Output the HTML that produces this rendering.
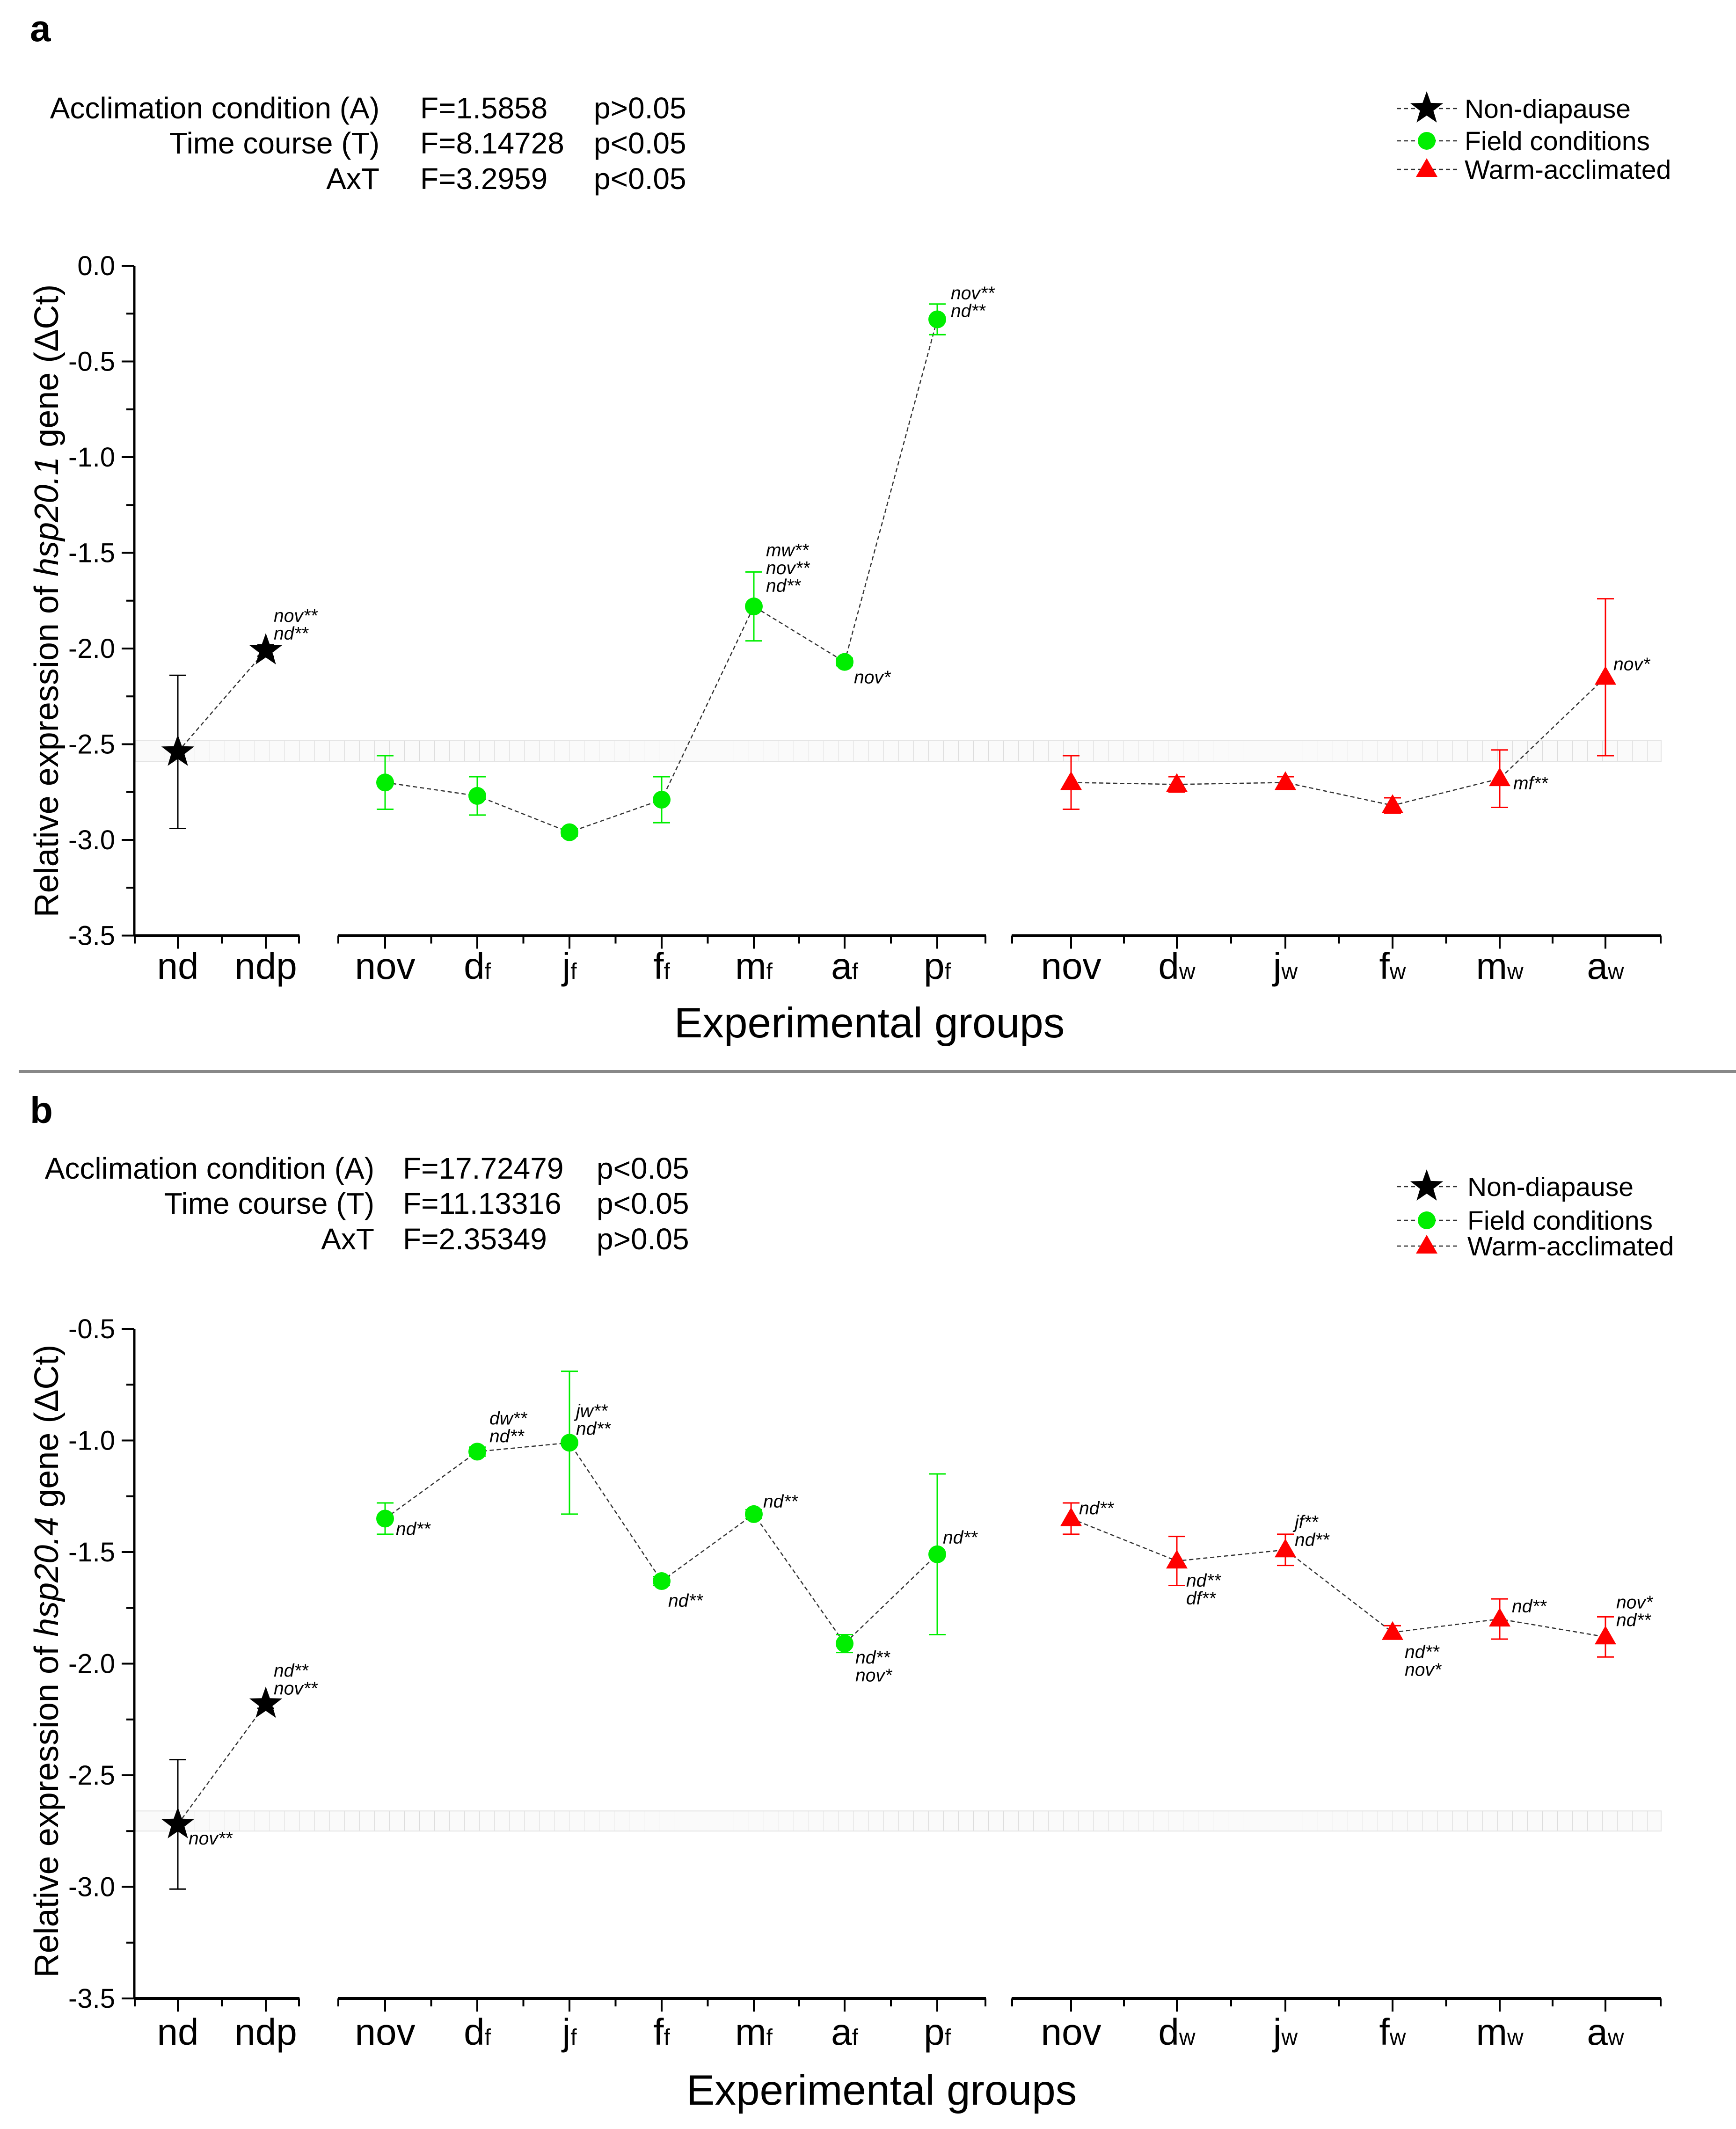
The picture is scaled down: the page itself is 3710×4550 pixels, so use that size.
<!DOCTYPE html>
<html><head><meta charset="utf-8">
<style>
html,body{margin:0;padding:0;background:#fff;}
svg{display:block;font-family:"Liberation Sans",Arial,sans-serif;}
</style></head>
<body>
<svg id="fig" width="3710" height="4550" viewBox="0 0 3710 4550" xmlns="http://www.w3.org/2000/svg">
<defs>
<pattern id="hatch" width="32" height="40" patternUnits="userSpaceOnUse">
<rect width="32" height="40" fill="#fafafa"/>
<line x1="0" y1="0" x2="0" y2="40" stroke="#dcdcdc" stroke-width="2"/>
</pattern>
</defs>
<text x="64" y="88" font-size="80" font-weight="bold">a</text>
<text x="64" y="2400" font-size="80" font-weight="bold">b</text>
<line x1="40" y1="2290" x2="3710" y2="2290" stroke="#888" stroke-width="6"/>
<g id="pa"></g>
<g id="pb"></g>
</svg>
<script>
// ---- categories
const catMain = ["nd","ndp","nov","d","j","f","m","a","p","nov","d","j","f","m","a"];
const catSub  = ["","","","f","f","f","f","f","f","","w","w","w","w","w"];
const catGroup = ["n","n","f","f","f","f","f","f","f","w","w","w","w","w","w"];
// ---- panel a values
const aVals = [-2.54,-2.01,-2.70,-2.77,-2.96,-2.79,-1.78,-2.07,-0.28,-2.70,-2.71,-2.70,-2.82,-2.68,-2.15];
const aErr  = [0.40,0.03,0.14,0.10,0.02,0.12,0.18,0.02,0.08,0.14,0.04,0.03,0.04,0.15,0.41];
const aBand = [-2.48,-2.59];
const aTicks = [0.0,-0.5,-1.0,-1.5,-2.0,-2.5,-3.0,-3.5];
// ---- panel b values
const bVals = [-2.72,-2.18,-1.35,-1.05,-1.01,-1.63,-1.33,-1.91,-1.51,-1.35,-1.54,-1.49,-1.86,-1.80,-1.88];
const bErr  = [0.29,0.02,0.07,0.02,0.32,0.02,0.02,0.04,0.36,0.07,0.11,0.07,0.03,0.09,0.09];
const bBand = [-2.66,-2.75];
const bTicks = [-0.5,-1.0,-1.5,-2.0,-2.5,-3.0,-3.5];
// ---- annotations: [index, text lines]
const aAnn = [[1,["nov**","nd**"]],[6,["mw**","nov**","nd**"]],[7,["nov*"]],[8,["nov**","nd**"]],[13,["mf**"]],[14,["nov*"]]];
const aAnnOff = [[17,-61],[26,-107],[20,46],[29,-43],[29,23],[17,-15]];
const bAnn = [[0,["nov**"]],[1,["nd**","nov**"]],[2,["nd**"]],[3,["dw**","nd**"]],[4,["jw**","nd**"]],[5,["nd**"]],[6,["nd**"]],[7,["nd**","nov*"]],[8,["nd**"]],[9,["nd**"]],[10,["nd**","df**"]],[11,["jf**","nd**"]],[12,["nd**","nov*"]],[13,["nd**"]],[14,["nov*","nd**"]]];
const bAnnOff = [[23,43],[17,-58],[23,35],[26,-58],[14,-55],[14,55],[20,-14],[23,43],[12,-23],[17,-9],[20,55],[20,-46],[26,55],[26,-14],[23,-61]];

const NS="http://www.w3.org/2000/svg";
const xPos=[380,568,823,1020,1217,1414,1611,1805,2003,2289,2515,2747,2976,3205,3431];
const segs=[[287,640],[722,2107],[2162,3550]];
const colors={n:"#000",f:"#00ee00",w:"#ff0000"};
function mk(parent,tag,attrs){const e=document.createElementNS(NS,tag);for(const k in attrs)e.setAttribute(k,attrs[k]);parent.appendChild(e);return e;}

function panel(g,P){
  const y=v=>P.y0+(P.top-v)*P.ppu;
  const yBot=y(P.ticks[P.ticks.length-1]);
  const band=mk(g,"rect",{x:289,y:y(P.band[0]),width:3261,height:y(P.band[1])-y(P.band[0]),fill:"url(#hatch)",stroke:"#e4e4e4","stroke-width":2});
  
  
  const ya=mk(g,"line",{x1:287,y1:P.y0,x2:287,y2:yBot,stroke:"#000","stroke-width":5});
  
  
  for(let v=P.top;v>=P.ticks[P.ticks.length-1]-1e-6;v-=0.25){
    const major=Math.abs(v*2-Math.round(v*2))<1e-6;
    mk(g,"line",{x1:major?260:270,y1:y(v),x2:287,y2:y(v),stroke:"#000","stroke-width":4});
  }
  P.ticks.forEach(t=>{
    const tl=mk(g,"text",{x:246,y:y(t)+20,"font-size":58,"text-anchor":"end"});
    tl.textContent=t.toFixed(1);
    
    
  });
  segs.forEach(s=>{
    const xa=mk(g,"line",{x1:s[0],y1:yBot,x2:s[1],y2:yBot,stroke:"#000","stroke-width":6});
    
    
    mk(g,"line",{x1:s[0]+1,y1:yBot,x2:s[0]+1,y2:yBot+17,stroke:"#000","stroke-width":4});
    mk(g,"line",{x1:s[1]-1,y1:yBot,x2:s[1]-1,y2:yBot+17,stroke:"#000","stroke-width":4});
  });
  xPos.forEach((x,i)=>{
    mk(g,"line",{x1:x,y1:yBot,x2:x,y2:yBot+28,stroke:"#000","stroke-width":4});
    if(i<xPos.length-1&&catGroup[i]===catGroup[i+1]){const m=(x+xPos[i+1])/2;mk(g,"line",{x1:m,y1:yBot,x2:m,y2:yBot+17,stroke:"#000","stroke-width":4});}
    const t=mk(g,"text",{x:x,y:P.lblY,"font-size":80,"text-anchor":"middle"});
    t.textContent=catMain[i];
    if(catSub[i]){const s=document.createElementNS(NS,"tspan");s.setAttribute("font-size","48");s.textContent=catSub[i];t.appendChild(s);}
    
    
  });
  const xt=mk(g,"text",{x:P.xtX,y:P.xtY,"font-size":91,"text-anchor":"middle"});
  xt.textContent="Experimental groups";
  
  
  const yt=mk(g,"text",{x:0,y:0,"font-size":72,"text-anchor":"middle",transform:`translate(124,${P.ytY}) rotate(-90)`});
  yt.innerHTML=`Relative expression of <tspan font-style="italic">${P.gene}</tspan> gene (ΔCt)`;
  
  
  ["n","f","w"].forEach(gr=>{
    const pts=[];P.vals.forEach((v,i)=>{if(catGroup[i]===gr)pts.push(xPos[i]+","+y(v));});
    const pl=mk(g,"polyline",{points:pts.join(" "),fill:"none",stroke:"#333","stroke-width":2.5,"stroke-dasharray":"9,6"});
    
    
  });
  P.vals.forEach((v,i)=>{
    const c=colors[catGroup[i]],x=xPos[i],e=P.err[i];
    const eb=mk(g,"path",{d:`M${x},${y(v+e)}V${y(v-e)}M${x-18},${y(v+e)}H${x+18}M${x-18},${y(v-e)}H${x+18}`,stroke:c,"stroke-width":3,fill:"none"});
    
    
    drawMarker(g,catGroup[i],x,y(v));
  });
  P.ann.forEach((a,k)=>{
    const i=a[0],x=xPos[i]+P.off[k][0],yy=y(P.vals[i])+P.off[k][1];
    a[1].forEach((s,j)=>{
      const t=mk(g,"text",{x:x,y:yy+j*38,"font-size":39,"font-style":"italic"});
      t.textContent=s;
      
      
    });
  });
}
function drawMarker(g,gr,x,y){
  let m;
  if(gr==="n"){
    const pts=[];for(let k=0;k<10;k++){const r=k%2?15:37,a=-Math.PI/2+k*Math.PI/5;pts.push((x+r*Math.cos(a)).toFixed(1)+","+(y+r*Math.sin(a)).toFixed(1));}
    m=mk(g,"polygon",{points:pts.join(" "),fill:"#000"});
  }else if(gr==="f"){
    m=mk(g,"circle",{cx:x,cy:y,r:19,fill:"#00ee00"});
  }else{
    m=mk(g,"polygon",{points:`${x},${y-24} ${x+23},${y+16} ${x-23},${y+16}`,fill:"#ff0000"});
  }
  
  
}
function stats(g,rows,yArr,labX,fX,pX){
  rows.forEach((r,i)=>{
    [[labX,r[0],"end"],[fX,r[1],"start"],[pX,r[2],"start"]].forEach(c=>{
      const t=mk(g,"text",{x:c[0],y:yArr[i],"font-size":64,"text-anchor":c[2]});
      t.textContent=c[1];
      
      
    });
  });
}
function legend(g,ys,lx,tx){
  const names=["Non-diapause","Field conditions","Warm-acclimated"],gs=["n","f","w"];
  ys.forEach((yy,i)=>{
    mk(g,"line",{x1:lx,y1:yy,x2:lx+130,y2:yy,stroke:"#333","stroke-width":2.5,"stroke-dasharray":"9,6"});
    drawMarker(g,gs[i],lx+64,yy);
    const t=mk(g,"text",{x:tx,y:yy+20,"font-size":57});
    t.textContent=names[i];
    
    
  });
}
const ga=document.getElementById("pa"),gb=document.getElementById("pb");
panel(ga,{y0:568,top:0,ppu:409,ticks:aTicks,vals:aVals,err:aErr,band:aBand,ann:aAnn,off:aAnnOff,lblY:2092,xtX:1858,xtY:2217,ytY:1284,gene:"hsp20.1"});
panel(gb,{y0:2840,top:-0.5,ppu:477,ticks:bTicks,vals:bVals,err:bErr,band:bBand,ann:bAnn,off:bAnnOff,lblY:4370,xtX:1884,xtY:4498,ytY:3550,gene:"hsp20.4"});
stats(ga,[["Acclimation condition (A)","F=1.5858","p>0.05"],["Time course (T)","F=8.14728","p<0.05"],["AxT","F=3.2959","p<0.05"]],[253,328,404],811,898,1269);
stats(gb,[["Acclimation condition (A)","F=17.72479","p<0.05"],["Time course (T)","F=11.13316","p<0.05"],["AxT","F=2.35349","p>0.05"]],[2519,2594,2670],800,861,1275);
legend(ga,[232,301,362],2985,3130);
legend(gb,[2536,2608,2663],2985,3136);
</script>
</body></html>
